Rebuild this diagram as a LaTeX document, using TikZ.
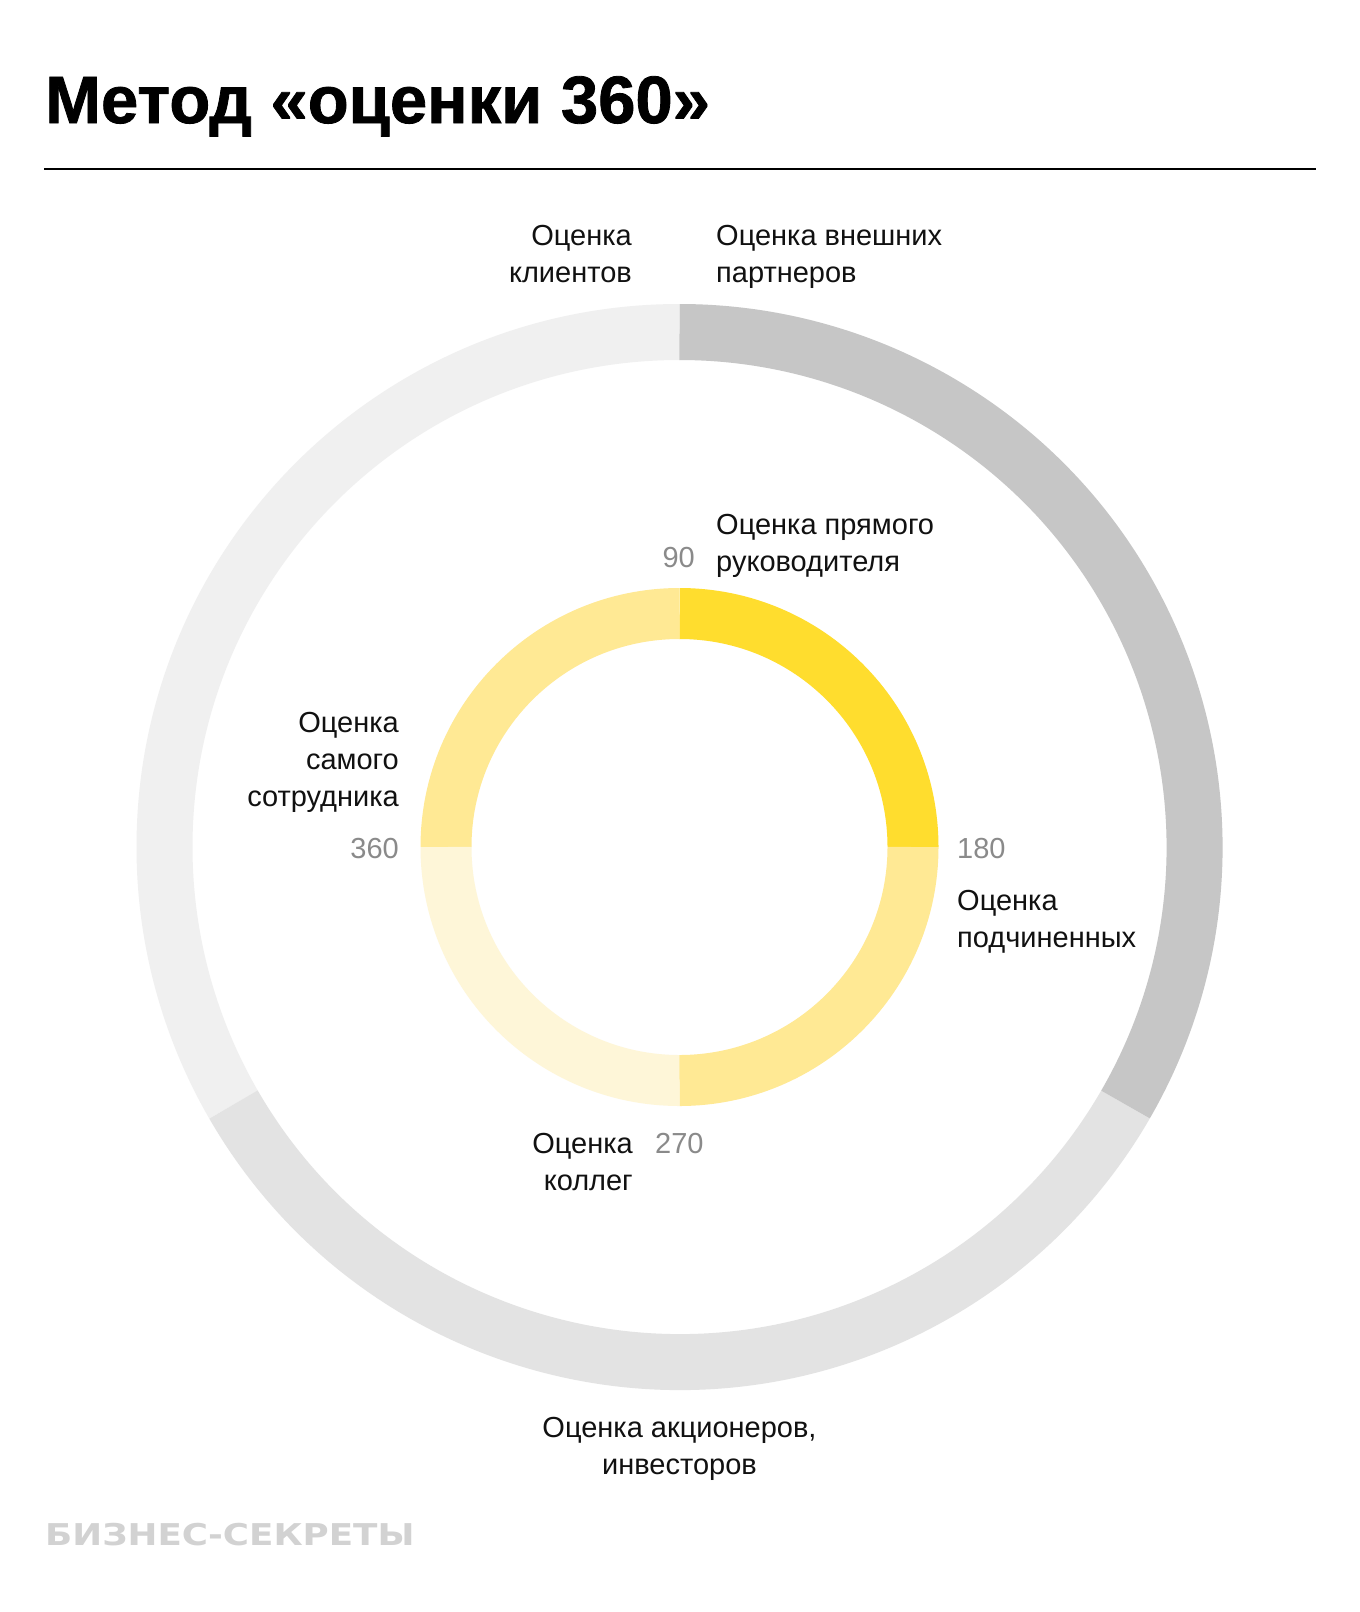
\documentclass[tikz,border=0pt]{standalone}
\usepackage{fontspec}
\setmainfont{Liberation Sans}
\newfontfamily\titlefont[FakeBold=1.2]{Liberation Sans Bold}
\newfontfamily\logofont[FakeStretch=1.19]{DejaVu Sans Bold}
\usetikzlibrary{positioning}
\definecolor{darktext}{HTML}{111111}
\definecolor{numgray}{HTML}{8A8A8A}
\definecolor{ringpale}{HTML}{F0F0F0}
\definecolor{ringmid}{HTML}{E3E3E3}
\definecolor{ringdark}{HTML}{C6C6C6}
\definecolor{yelstrong}{HTML}{FFDD2E}
\definecolor{yelmid}{HTML}{FFE994}
\definecolor{yelpale}{HTML}{FEF6D8}
\definecolor{logogray}{HTML}{D2D2D2}
\tikzset{
  outerring/.style={line width=56pt},
  innerring/.style={line width=51pt},
  lbl/.style={inner sep=0pt, font=\fontsize{29}{37}\selectfont, text=darktext},
  num/.style={inner sep=0pt, font=\fontsize{29}{37}\selectfont, text=numgray}
}
\begin{document}
\begin{tikzpicture}[x=1pt, y=1pt]
    \useasboundingbox[fill=white] (0,0) rectangle (1360,-1612);
    % Title and rule
    \node[inner sep=0pt, anchor=base west, font=\titlefont\fontsize{67}{70}\selectfont, text=black] (title) at (45,-123) {Метод «оценки 360»};
    \coordinate (ruleL) at (44,-169);
    \coordinate (ruleR) at (1316,-169);
    \draw[line width=2pt, black] (ruleL) -- (ruleR);
    % Rings
    \begin{scope}[shift={(679.5,-847)}]
      \draw[outerring, ringpale] (90:515) arc[start angle=90, end angle=210, radius=515];
      \draw[outerring, ringmid] (210:515) arc[start angle=210, end angle=330, radius=515];
      \draw[outerring, ringdark] (-30:515) arc[start angle=-30, end angle=90, radius=515];
      \draw[innerring, yelstrong] (0:233.5) arc[start angle=0, end angle=90, radius=233.5];
      \draw[innerring, yelmid] (90:233.5) arc[start angle=90, end angle=180, radius=233.5];
      \draw[innerring, yelpale] (180:233.5) arc[start angle=180, end angle=270, radius=233.5];
      \draw[innerring, yelmid] (270:233.5) arc[start angle=270, end angle=360, radius=233.5];
    \end{scope}
    % Outer labels (base = last line)
    \node[lbl, anchor=base east, align=right] (clients) at (632,-282) {Оценка\\клиентов};
    \node[lbl, anchor=base west, align=left] (partners) at (716,-282) {Оценка внешних\\партнеров};
    \node[lbl, anchor=base, align=center] (investors) at (679.5,-1474) {Оценка акционеров,\\инвесторов};
    % Inner labels
    \node[lbl, anchor=base west, align=left] (boss) at (716,-571) {Оценка прямого\\руководителя};
    \node[lbl, anchor=base east, align=right] (self) at (399,-806) {Оценка\\самого\\сотрудника};
    \node[lbl, anchor=base west, align=left] (subs) at (957,-947) {Оценка\\подчиненных};
    \node[lbl, anchor=base east, align=right] (peers) at (633,-1190) {Оценка\\коллег};
    % Degree marks
    \node[num, anchor=base east] (n90) at (695,-567) {90};
    \node[num, anchor=base west] (n180) at (957,-858) {180};
    \node[num, anchor=base west] (n270) at (655,-1153) {270};
    \node[num, anchor=base east] (n360) at (399,-858) {360};
    % Logo
    \node[inner sep=0pt, anchor=base west, font=\logofont\fontsize{30}{32}\selectfont, text=logogray] (logo) at (45,-1545) {БИЗНЕС-СЕКРЕТЫ};
\end{tikzpicture}
\end{document}
